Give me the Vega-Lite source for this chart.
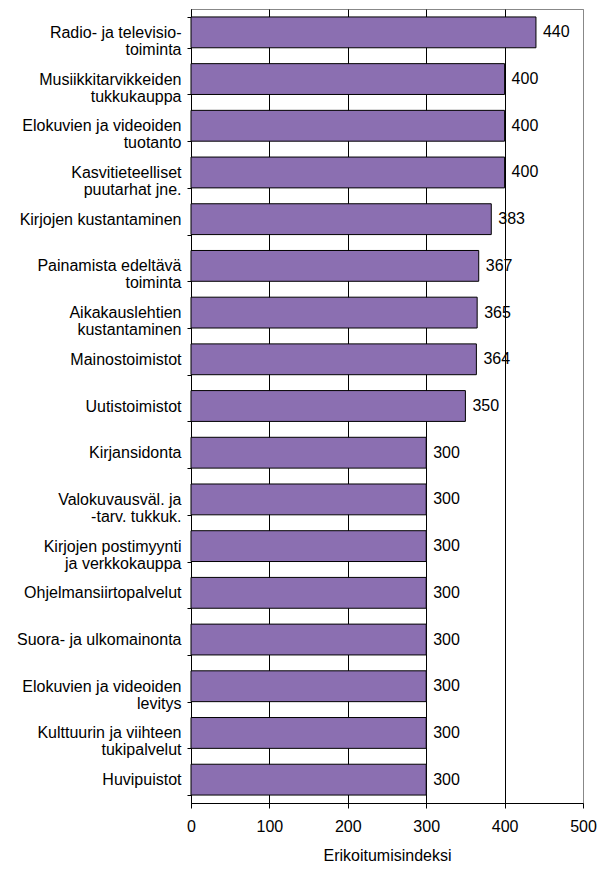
{
  "$schema": "https://vega.github.io/schema/vega-lite/v6.json",
  "width": 392,
  "height": 794,
  "autosize": {"type": "none"},
  "padding": {"left": 191, "top": 9, "right": 19, "bottom": 67},
  "config": {
    "view": {"stroke": "#888888", "strokeWidth": 1},
    "font": "Liberation Sans"
  },
  "data": {
    "values": [
      {"label": "Radio- ja televisio-|toiminta", "value": 440},
      {"label": "Musiikkitarvikkeiden|tukkukauppa", "value": 400},
      {"label": "Elokuvien ja videoiden|tuotanto", "value": 400},
      {"label": "Kasvitieteelliset|puutarhat jne.", "value": 400},
      {"label": "Kirjojen kustantaminen", "value": 383},
      {"label": "Painamista edeltävä|toiminta", "value": 367},
      {"label": "Aikakauslehtien|kustantaminen", "value": 365},
      {"label": "Mainostoimistot", "value": 364},
      {"label": "Uutistoimistot", "value": 350},
      {"label": "Kirjansidonta", "value": 300},
      {"label": "Valokuvausväl. ja|-tarv. tukkuk.", "value": 300},
      {"label": "Kirjojen postimyynti|ja verkkokauppa", "value": 300},
      {"label": "Ohjelmansiirtopalvelut", "value": 300},
      {"label": "Suora- ja ulkomainonta", "value": 300},
      {"label": "Elokuvien ja videoiden|levitys", "value": 300},
      {"label": "Kulttuurin ja viihteen|tukipalvelut", "value": 300},
      {"label": "Huvipuistot", "value": 300}
    ]
  },
  "encoding": {
    "y": {
      "field": "label",
      "type": "nominal",
      "sort": null,
      "scale": {"paddingInner": 0.34, "paddingOuter": 0.17},
      "axis": {
        "title": null,
        "domainColor": "black",
        "tickColor": "black",
        "tickSize": 4,
        "tickBand": "extent",
        "labelPadding": 6,
        "labelExpr": "split(datum.label, '|')",
        "labelFontSize": 16,
        "labelLineHeight": 17,
        "labelColor": "black",
        "labelLimit": 200,
        "grid": false
      }
    }
  },
  "layer": [
    {
      "mark": {"type": "bar", "fill": "#8b6fb1", "stroke": "black", "strokeWidth": 1},
      "encoding": {
        "x": {
          "field": "value",
          "type": "quantitative",
          "scale": {"domain": [0, 500], "nice": false},
          "axis": {
            "title": "Erikoitumisindeksi",
            "values": [0, 100, 200, 300, 400, 500],
            "grid": true,
            "gridColor": {"condition": {"test": "datum.value === 500", "value": "#888888"}, "value": "black"},
            "gridOpacity": 1,
            "domainColor": "black",
            "tickColor": "black",
            "tickSize": 5,
            "labelFlush": false,
            "labelPadding": 10,
            "labelFontSize": 16,
            "labelColor": "black",
            "titleFontSize": 16,
            "titleFontWeight": "normal",
            "titleColor": "black",
            "titlePadding": 13
          }
        }
      }
    },
    {
      "mark": {"type": "text", "align": "left", "baseline": "middle", "dx": 7, "fontSize": 16, "color": "black"},
      "encoding": {
        "x": {"field": "value", "type": "quantitative"},
        "text": {"field": "value", "type": "quantitative"}
      }
    }
  ]
}
